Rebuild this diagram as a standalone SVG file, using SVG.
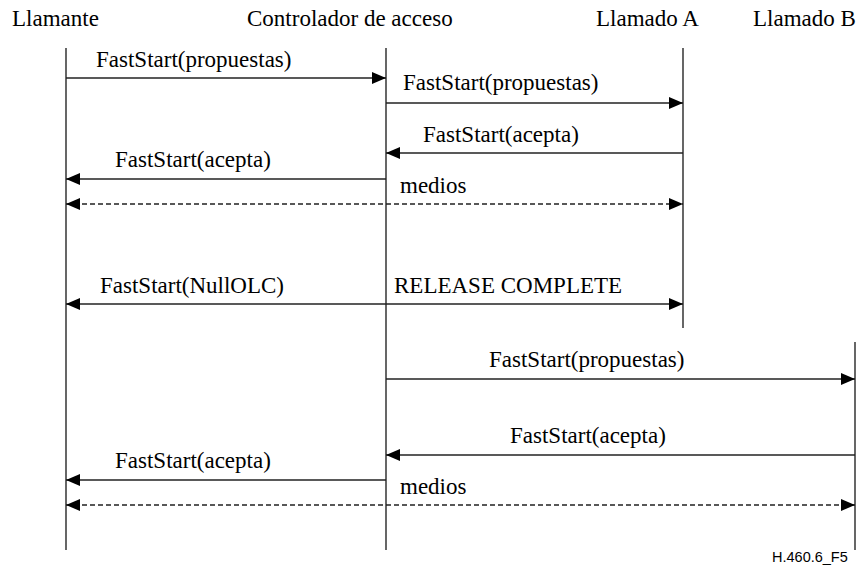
<svg xmlns="http://www.w3.org/2000/svg" width="859" height="572" viewBox="0 0 859 572">
<defs>
<style>
.t{font-family:"Liberation Serif","Times New Roman",serif;font-size:23px;fill:#000}
.f{font-family:"Liberation Sans",Arial,sans-serif;font-size:14.5px;fill:#000}
.ll{stroke:#000;stroke-width:1.2;fill:none}
.m{stroke:#222;stroke-width:1.4;fill:none}
.d{stroke:#222;stroke-width:1.4;fill:none;stroke-dasharray:5,3}
</style>
<marker id="ah" viewBox="0 0 14 12" refX="14" refY="6" markerWidth="14" markerHeight="12" markerUnits="userSpaceOnUse" orient="auto-start-reverse">
<path d="M0,0 L14,6 L0,12 Z" fill="#000"/>
</marker>
</defs>
<rect width="859" height="572" fill="#fff"/>
<g id="llamante">
<text class="t" x="12" y="26">Llamante</text>
<line class="ll" x1="66" y1="48" x2="66" y2="550"/>
</g>
<g id="controlador">
<text class="t" x="247" y="26">Controlador de acceso</text>
<line class="ll" x1="386" y1="48" x2="386" y2="550"/>
</g>
<g id="llamadoA">
<text class="t" x="596" y="26">Llamado A</text>
<line class="ll" x1="683" y1="48" x2="683" y2="328"/>
</g>
<g id="llamadoB">
<text class="t" x="753" y="26">Llamado B</text>
<line class="ll" x1="855" y1="342" x2="855" y2="550"/>
</g>
<g id="connectors">
<line class="m" x1="66" y1="78" x2="386" y2="78" marker-end="url(#ah)"/>
<text class="t" x="96" y="67">FastStart(propuestas)</text>
<line class="m" x1="386" y1="103" x2="683" y2="103" marker-end="url(#ah)"/>
<text class="t" x="403" y="90">FastStart(propuestas)</text>
<line class="m" x1="683" y1="153" x2="386" y2="153" marker-end="url(#ah)"/>
<text class="t" x="423" y="142">FastStart(acepta)</text>
<line class="m" x1="386" y1="179" x2="66" y2="179" marker-end="url(#ah)"/>
<text class="t" x="115" y="167">FastStart(acepta)</text>
<line class="d" x1="66" y1="204" x2="683" y2="204" marker-start="url(#ah)" marker-end="url(#ah)"/>
<text class="t" x="400" y="193">medios</text>
<line class="m" x1="66" y1="304" x2="683" y2="304" marker-start="url(#ah)" marker-end="url(#ah)"/>
<text class="t" x="100" y="293">FastStart(NullOLC)</text>
<text class="t" x="394" y="293">RELEASE COMPLETE</text>
<line class="m" x1="386" y1="379" x2="855" y2="379" marker-end="url(#ah)"/>
<text class="t" x="489" y="367">FastStart(propuestas)</text>
<line class="m" x1="855" y1="455" x2="386" y2="455" marker-end="url(#ah)"/>
<text class="t" x="510" y="443">FastStart(acepta)</text>
<line class="m" x1="386" y1="480" x2="66" y2="480" marker-end="url(#ah)"/>
<text class="t" x="115" y="468">FastStart(acepta)</text>
<line class="d" x1="66" y1="505" x2="855" y2="505" marker-start="url(#ah)" marker-end="url(#ah)"/>
<text class="t" x="400" y="494">medios</text>
</g>
<text class="f" x="772" y="562">H.460.6_F5</text>
</svg>
